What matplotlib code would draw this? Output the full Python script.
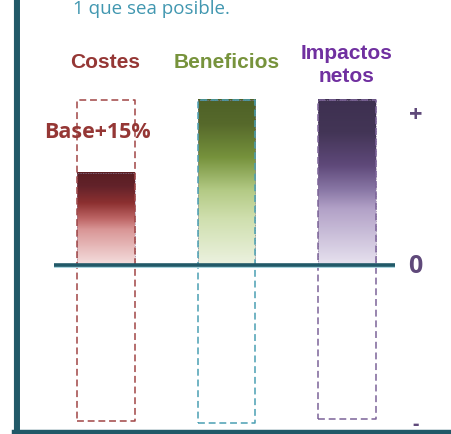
import numpy as np
import matplotlib.pyplot as plt
from matplotlib.colors import LinearSegmentedColormap

# Chart content
categories = ["Costes", "Beneficios", "Impactos\nnetos"]
values = [0.56, 1.0, 1.0]          # filled height of each bar (scale: 1 = "+")
box_top = [1.0, 1.0, 1.0]          # dashed outline upper limit
box_bottom = [-0.945, -0.958, -0.933]  # dashed outline lower limit
title_colors = ["#953735", "#77933c", "#7030a0"]
box_colors = ["#a04545", "#4a9fb3", "#7c6399"]
gradients = [
    [(0.0, "#5a1e21"), (0.15, "#62222a"), (0.33, "#8c3030"), (0.5, "#bd6565"),
     (0.62, "#d99696"), (1.0, "#f5dfdf")],
    [(0.0, "#4e6127"), (0.15, "#56692b"), (0.35, "#76923c"), (0.55, "#b3ca85"),
     (0.72, "#cfdfae"), (1.0, "#ecf2e0")],
    [(0.0, "#3d3050"), (0.2, "#433556"), (0.4, "#5f497a"), (0.55, "#8a78a6"),
     (0.66, "#b2a1c7"), (1.0, "#e7e2ef")],
]
scale_labels = ["+", "0", "-"]
scale_values = [0.90, -0.01, -0.955]
note = "1 que sea posible."
annotation = "Base+15%"

W, H = 452, 434
fig = plt.figure(figsize=(W / 100, H / 100), dpi=100)
ax = fig.add_axes([0, 0, 1, 1])

# linear mapping: category spacing 120.5 px, 165 px per unit, zero at 169 px from bottom
x0_px, dx_px = 106, 120.5
y0_px, dy_px = 169, 165
ax.set_xlim(-x0_px / dx_px, (W - x0_px) / dx_px)
ax.set_ylim(-y0_px / dy_px, (H - y0_px) / dy_px)
ax.axis("off")

bar_w = 0.48
xs = np.arange(len(categories))
grad = np.linspace(0, 1, 256).reshape(-1, 1)

for i, x in enumerate(xs):
    cmap = LinearSegmentedColormap.from_list(f"g{i}", gradients[i])
    ax.imshow(grad, cmap=cmap, aspect="auto", origin="upper",
              extent=[x - bar_w / 2, x + bar_w / 2, 0, values[i]],
              interpolation="bilinear", zorder=1)
    ax.plot([x - bar_w / 2, x + bar_w / 2, x + bar_w / 2, x - bar_w / 2, x - bar_w / 2],
            [0, 0, values[i], values[i], 0], color="#8a7a9a", lw=0.6,
            ls=(0, (1, 1)), zorder=2)
    bx = [x - bar_w / 2, x + bar_w / 2, x + bar_w / 2, x - bar_w / 2, x - bar_w / 2]
    by = [box_bottom[i], box_bottom[i], box_top[i], box_top[i], box_bottom[i]]
    ax.plot(bx, by, color=box_colors[i], lw=1.1, ls=(0, (4.5, 2.5)), zorder=3)

# zero baseline
ax.plot([-0.432, 2.398], [-0.008, -0.008], color="#a8d4de", lw=2.8,
        solid_capstyle="butt", zorder=4)
ax.plot([-0.432, 2.398], [0.0, 0.0], color="#215968", lw=2.6,
        solid_capstyle="butt", zorder=5)

# frame on the left and bottom
ax.plot([13.6 / dx_px - x0_px / dx_px] * 2, [-2, 3], color="#b8c4c8", lw=1.0, zorder=6)
ax.plot([16.5 / dx_px - x0_px / dx_px] * 2, [-2, 3], color="#215968", lw=4.3, zorder=7)
ax.plot([14 / dx_px - x0_px / dx_px, 5], [(2 - y0_px) / dy_px] * 2,
        color="#215968", lw=3.2, zorder=7)

# category titles
title_y = [62, 63, 65]
title_x = [105, 227, 347]
for i, t in enumerate(categories):
    fig.text(title_x[i] / W, 1 - title_y[i] / H, t, ha="center", va="center",
             fontsize=15, fontweight="bold", color=title_colors[i],
             family="Liberation Sans", linespacing=1.3)

ax.text(-0.07, 0.8, annotation, ha="center", va="center", fontsize=15.5,
        fontweight="bold", color="#953735", family="Open Sans", zorder=8)

# scale markers
sizes = {"+": 17, "0": 18, "-": 14}
for lab, v in zip(scale_labels, scale_values):
    ax.text(2.57, v, lab, ha="center", va="center_baseline" if lab == "-" else "center",
            fontsize=sizes[lab], fontweight="bold",
            color="#5f497a", family="Open Sans", zorder=8)

fig.text(73 / W, 1 - 9 / H, note, ha="left", va="center", fontsize=13.5,
         color="#4197b0", family="Open Sans")

fig.savefig("out.png", dpi=100)
